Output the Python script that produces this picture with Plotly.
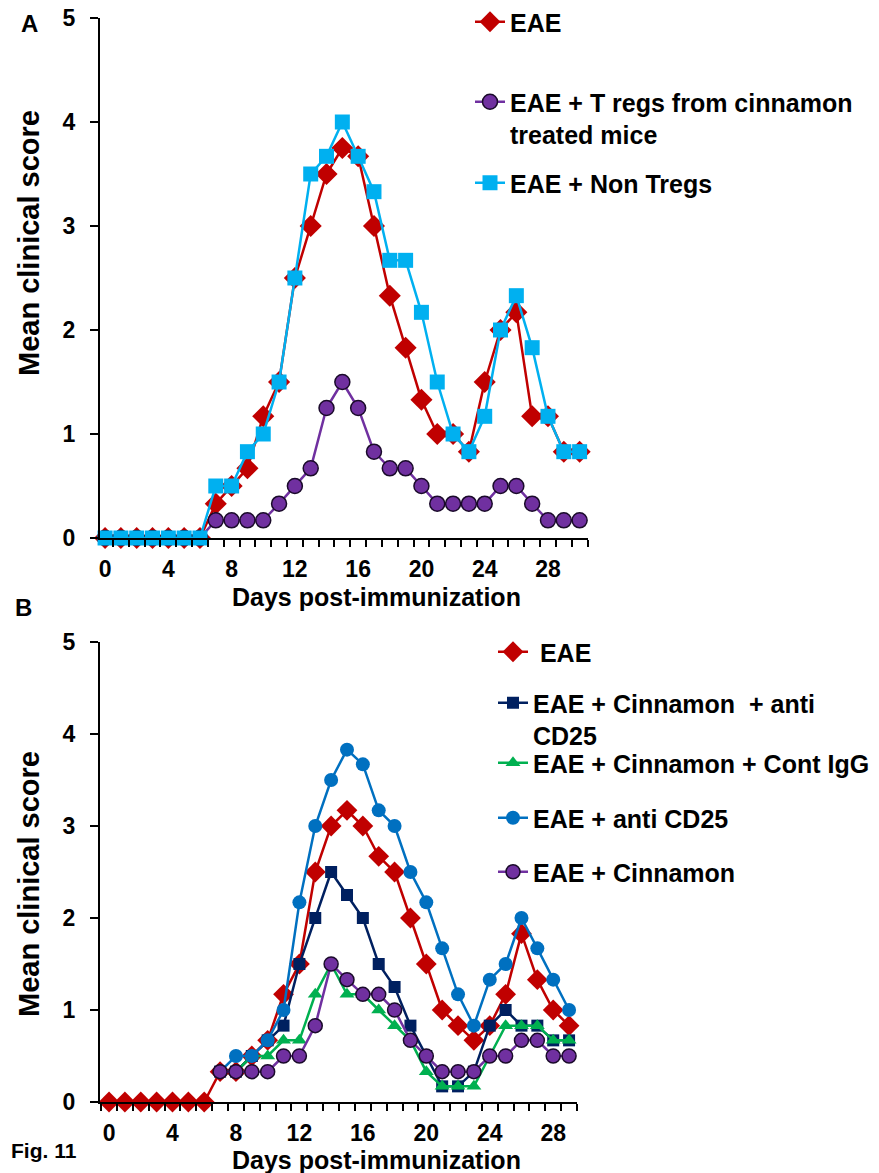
import plotly.graph_objects as go

# ---------------- data ----------------
days_a = list(range(0, 31))
eae_a = [0, 0, 0, 0, 0, 0, 0, 0.33, 0.5, 0.67, 1.17, 1.5, 2.5, 3.0, 3.5, 3.75,
         3.67, 3.0, 2.33, 1.83, 1.33, 1.0, 1.0, 0.83, 1.5, 2.0, 2.17, 1.17, 1.17, 0.83, 0.83]
tregs_a = [0, 0, 0, 0, 0, 0, 0, 0.17, 0.17, 0.17, 0.17, 0.33, 0.5, 0.67, 1.25, 1.5,
           1.25, 0.83, 0.67, 0.67, 0.5, 0.33, 0.33, 0.33, 0.33, 0.5, 0.5, 0.33, 0.17, 0.17, 0.17]
nontregs_a = [0, 0, 0, 0, 0, 0, 0, 0.5, 0.5, 0.83, 1.0, 1.5, 2.5, 3.5, 3.67, 4.0,
              3.67, 3.33, 2.67, 2.67, 2.17, 1.5, 1.0, 0.83, 1.17, 2.0, 2.33, 1.83, 1.17, 0.83, 0.83]

days_b_eae = list(range(0, 30))
eae_b = [0, 0, 0, 0, 0, 0, 0, 0.33, 0.33, 0.5, 0.67, 1.17, 1.5, 2.5, 3.0, 3.17,
         3.0, 2.67, 2.5, 2.0, 1.5, 1.0, 0.83, 0.67, 0.83, 1.17, 1.83, 1.33, 1.0, 0.83]
days_b = list(range(7, 30))
cinn_anticd25_b = [0.33, 0.33, 0.5, 0.67, 0.83, 1.5, 2.0, 2.5, 2.25, 2.0, 1.5, 1.25,
                   0.83, 0.5, 0.17, 0.17, 0.33, 0.83, 1.0, 0.83, 0.83, 0.67, 0.67]
cinn_igg_b = [0.33, 0.33, 0.5, 0.5, 0.67, 0.67, 1.17, 1.5, 1.17, 1.17, 1.0, 0.83,
              0.67, 0.33, 0.17, 0.17, 0.17, 0.5, 0.83, 0.83, 0.83, 0.67, 0.67]
anticd25_b = [0.33, 0.5, 0.5, 0.67, 1.0, 2.17, 3.0, 3.5, 3.83, 3.67, 3.17, 3.0,
              2.5, 2.17, 1.67, 1.17, 0.83, 1.33, 1.5, 2.0, 1.67, 1.33, 1.0]
cinn_b = [0.33, 0.33, 0.33, 0.33, 0.5, 0.5, 0.83, 1.5, 1.33, 1.17, 1.17, 1.0,
          0.67, 0.5, 0.33, 0.33, 0.33, 0.5, 0.5, 0.67, 0.67, 0.5, 0.5]

x_tickvals = [0, 4, 8, 12, 16, 20, 24, 28]
x_ticktext = ["0", "4", "8", "12", "16", "20", "24", "28"]
y_tickvals = [0, 1, 2, 3, 4, 5]
y_ticktext = ["0", "1", "2", "3", "4", "5"]

names_a = ["EAE", "EAE + T regs from cinnamon<br>treated mice", "EAE + Non Tregs"]
names_b = [" EAE", "EAE + Cinnamon  + anti<br>CD25", "EAE + Cinnamon + Cont IgG",
           "EAE + anti CD25", "EAE + Cinnamon"]

x_title = "Days post-immunization"
y_title = "Mean clinical score"

# ---------------- styles ----------------
RED = "#C00000"
PURPLE = "#7030A0"
LBLUE = "#00B0F0"
NAVY = "#002060"
GREEN = "#00B050"
BLUE = "#0070C0"
FONT = "Liberation Sans"

fig = go.Figure()


def add(x, y, name, color, symbol, size, xa, ya, legend, outline=None, lw=2.5):
    fig.add_trace(go.Scatter(
        x=x, y=y, name=name, mode="lines+markers",
        line=dict(color=color, width=lw),
        marker=dict(symbol=symbol, size=size, color=color,
                    line=dict(color=outline if outline else color, width=1.5 if outline else 0)),
        xaxis=xa, yaxis=ya, legend=legend, cliponaxis=False, showlegend=True,
    ))


add(days_a, eae_a, names_a[0], RED, "diamond", 17, "x", "y", "legend")
add(days_a, tregs_a, names_a[1], PURPLE, "circle", 15, "x", "y", "legend2", outline="#1a0a2a")
add(days_a, nontregs_a, names_a[2], LBLUE, "square", 15, "x", "y", "legend3")

add(days_b_eae, eae_b, names_b[0], RED, "diamond", 16, "x2", "y2", "legend4")
add(days_b, cinn_anticd25_b, names_b[1], NAVY, "square", 12, "x2", "y2", "legend5")
add(days_b, cinn_igg_b, names_b[2], GREEN, "triangle-up", 13, "x2", "y2", "legend6")
add(days_b, anticd25_b, names_b[3], BLUE, "circle", 14, "x2", "y2", "legend7")
add(days_b, cinn_b, names_b[4], PURPLE, "circle", 14, "x2", "y2", "legend8", outline="#1a0a2a")

W, H = 879, 1173
OFF = 8  # page body margin of the html page


def px_x(p):
    return (p - OFF) / W


def px_y(p):
    return 1 - (p - OFF) / H


TICKFONT = dict(family=FONT, size=23, color="black", weight="bold")
XTFONT = dict(family=FONT, size=25, color="black", weight="bold")
YTFONT = dict(family=FONT, size=29, color="black", weight="bold")
axis_common = dict(showgrid=False, zeroline=False, showline=True, linecolor="black",
                   linewidth=2, mirror=False, ticks="outside", tickcolor="black",
                   tickwidth=2, tickfont=TICKFONT, automargin=False, ticklabeloverflow="allow")

xa = dict(axis_common, tickvals=x_tickvals, ticktext=x_ticktext, ticks="", ticklen=0,
          ticklabelstandoff=9,
          minor=dict(ticks="outside", tick0=0.5, dtick=1, ticklen=7, tickwidth=2, tickcolor="black"))
ya = dict(axis_common, tickvals=y_tickvals, ticktext=y_ticktext, range=[0, 5], ticklen=8,
          ticklabelstandoff=10)

leg_common = dict(bgcolor="rgba(0,0,0,0)", borderwidth=0, xanchor="left", yanchor="middle",
                  valign="top", itemwidth=30,
                  font=dict(family=FONT, size=25, color="black", weight="bold"))

legend_pos = {
    "legend": (470, 22), "legend2": (470, 118), "legend3": (470, 183),
    "legend4": (493, 652), "legend5": (493, 719), "legend6": (493, 763),
    "legend7": (493, 818), "legend8": (493, 872),
}
leg_layout = {}
for k, (lx, ly) in legend_pos.items():
    leg_layout[k] = dict(leg_common, x=px_x(lx), y=px_y(ly))


def note(text, x, y, font, angle=0, xanchor="center", yanchor="middle"):
    return dict(text=text, x=px_x(x), y=px_y(y), xref="paper", yref="paper",
                showarrow=False, xanchor=xanchor, yanchor=yanchor, textangle=angle, font=font)


LABELFONT = dict(family=FONT, size=24, color="black", weight="bold")
fig.update_layout(
    width=W, height=H, margin=dict(l=0, r=0, t=0, b=0, autoexpand=False),
    paper_bgcolor="white", plot_bgcolor="white", showlegend=True,
    font=dict(family=FONT, color="black"),
    xaxis=dict(xa, domain=[px_x(100), px_x(588)], range=[-0.32, 30.53], anchor="y"),
    yaxis=dict(ya, domain=[px_y(538), px_y(18)], anchor="x"),
    xaxis2=dict(xa, domain=[px_x(100), px_x(577)], range=[-0.57, 29.5], anchor="y2"),
    yaxis2=dict(ya, domain=[px_y(1102), px_y(642)], anchor="x2"),
    **leg_layout,
    annotations=[
        note(x_title, 376, 597, XTFONT),
        note(x_title, 376, 1160, XTFONT),
        note(y_title, 29, 243, YTFONT, angle=-90),
        note(y_title, 29, 884, YTFONT, angle=-90),
        note("A", 29, 24, LABELFONT),
        note("B", 23, 607, LABELFONT),
        note("Fig. 11", 9, 1164, dict(family=FONT, size=21, color="black", weight="bold"),
             xanchor="left", yanchor="bottom"),
    ],
)

fig.write_html("out.html")
